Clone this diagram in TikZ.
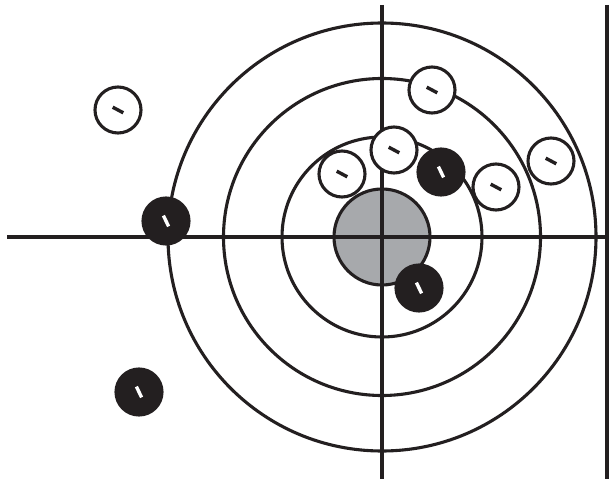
\documentclass[tikz,border=0pt]{standalone}
\definecolor{ink}{HTML}{231F20}
\definecolor{bullgray}{HTML}{A7A9AC}
\begin{document}
\begin{tikzpicture}[x=1pt,y=-1pt,
  ring/.style={draw=ink,line width=3.1pt},
  axis/.style={draw=ink,line width=3.1pt},
  hitw/.style={circle,draw=ink,fill=white,line width=3.1pt,minimum size=46pt,inner sep=0pt},
  hitb/.style={circle,draw=ink,fill=ink,line width=3.1pt,minimum size=46pt,inner sep=0pt},
  markw/.style={draw=ink,line width=3.4pt},
  markb/.style={draw=white,line width=3.4pt}]
\useasboundingbox (0,0) rectangle (610,481);
% target centre
\coordinate (o) at (382,237);
\coordinate (top) at (382,5);
\coordinate (bot) at (382,479);
\coordinate (lft) at (7,237);
\coordinate (rgt) at (607,237);
\coordinate (rt) at (607,5);
\coordinate (rb) at (607,479);
% bull
\fill[bullgray] (o) circle[radius=48];
\draw[ring] (o) circle[radius=48];
% rings
\draw[ring] (o) circle[radius=100];
\draw[ring] (o) circle[radius=158.5];
\draw[ring] (o) circle[radius=214];
% axes
\draw[axis] (top) -- (bot);
\draw[axis] (lft) -- (rgt);
\draw[axis] (rt) -- (rb);
% white hits
\node[hitw] (w1) at (118,110) {};
\node[hitw] (w2) at (342,174) {};
\node[hitw] (w3) at (394,150) {};
\node[hitw] (w4) at (432,90) {};
\node[hitw] (w5) at (496,187) {};
\node[hitw] (w6) at (551,161) {};
% black hits
\node[hitb] (b1) at (166,221) {};
\node[hitb] (b2) at (441,172) {};
\node[hitb] (b3) at (419,288) {};
\node[hitb] (b4) at (139,392) {};
% marks
\foreach \n in {w1,w2,w3,w4,w5,w6}
  \draw[markw] ([shift={(-5.3,-2.8)}]\n.center) -- ([shift={(5.3,2.8)}]\n.center);
\foreach \n in {b1,b2,b3,b4}
  \draw[markb] ([shift={(-2.6,-5.4)}]\n.center) -- ([shift={(2.6,5.4)}]\n.center);
\end{tikzpicture}
\end{document}
